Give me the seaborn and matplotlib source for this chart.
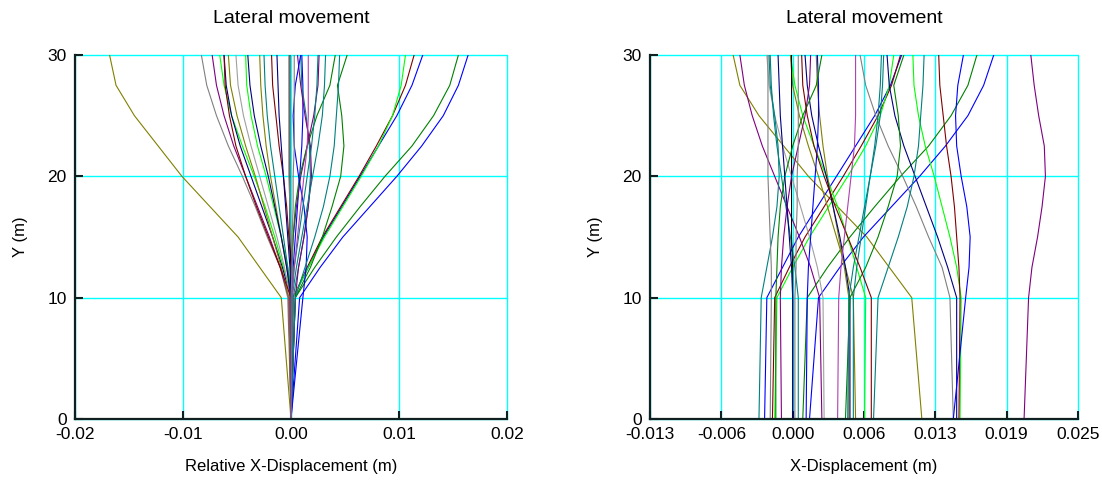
import matplotlib
matplotlib.use("Agg")
import matplotlib.pyplot as plt
import pandas as pd
import seaborn as sns

sns.set_theme(style="white")
plt.rcParams["font.family"] = ["Liberation Sans", "DejaVu Sans"]
plt.rcParams["text.color"] = "black"
plt.rcParams["axes.labelcolor"] = "black"

# Elevation levels (m) at which displacements were read
depth_levels = [0, 10, 12.5, 15, 17.5, 20, 22.5, 25, 27.5, 30]

# Relative X-displacement (m) per line, at depth_levels
r01 = [0, -0.0009, -0.0029, -0.0049, -0.0075, -0.0101, -0.0123, -0.0145, -0.0162, -0.0168]
r02 = [0, 0.0008, 0.0027, 0.0048, 0.0073, 0.0098, 0.0121, 0.0141, 0.0155, 0.0164]
r03 = [0, 0.0004, 0.0022, 0.0042, 0.0064, 0.0087, 0.0112, 0.0132, 0.0147, 0.0155]
r04 = [0, 0.0002, 0.0016, 0.0030, 0.0047, 0.0064, 0.0081, 0.0098, 0.0112, 0.0122]
r05 = [0, 0.0002, 0.0015, 0.0029, 0.0046, 0.0063, 0.0079, 0.0094, 0.0106, 0.0114]
r06 = [0, 0.0002, 0.0016, 0.0031, 0.0048, 0.0065, 0.0081, 0.0094, 0.0102, 0.0106]
r07 = [0, -0.0003, -0.0010, -0.0022, -0.0033, -0.0045, -0.0058, -0.0069, -0.0078, -0.0083]
r08 = [0, -0.0002, -0.0010, -0.0020, -0.0031, -0.0042, -0.0053, -0.0062, -0.0069, -0.0073]
r09 = [0, 0.0001, -0.0007, -0.0015, -0.0024, -0.0034, -0.0045, -0.0055, -0.0062, -0.0066]
r10 = [0, 0.0000, -0.0008, -0.0017, -0.0027, -0.0037, -0.0047, -0.0055, -0.0060, -0.0062]
r11 = [0, -0.0002, -0.0009, -0.0017, -0.0025, -0.0033, -0.0042, -0.0050, -0.0056, -0.0058]
r12 = [0, -0.0001, -0.0006, -0.0013, -0.0021, -0.0029, -0.0037, -0.0044, -0.0049, -0.0051]
r13 = [0, 0.0001, -0.0003, -0.0009, -0.0016, -0.0023, -0.0031, -0.0037, -0.0041, -0.0042]
r14 = [0, 0.0000, -0.0004, -0.0009, -0.0014, -0.0019, -0.0023, -0.0026, -0.0028, -0.0029]
r15 = [0, 0.0000, -0.0003, -0.0007, -0.0011, -0.0015, -0.0019, -0.0022, -0.0024, -0.0025]
r16 = [0, 0.0001, 0.0000, -0.0002, -0.0004, -0.0007, -0.0011, -0.0014, -0.0017, -0.0018]
r17 = [0, 0.0000, -0.0004, -0.0009, -0.0015, -0.0021, -0.0028, -0.0034, -0.0038, -0.0040]
r18 = [0, 0.0001, 0.0002, 0.0004, 0.0006, 0.0008, 0.0010, 0.0011, 0.0011, 0.0010]
r19 = [0, 0.0000, 0.0000, -0.0001, -0.0001, -0.0001, -0.0001, -0.0001, -0.0001, -0.0001]
r20 = [0, 0.0002, 0.0007, 0.0012, 0.0016, 0.0018, 0.0017, 0.0014, 0.0010, 0.0009]
r21 = [0, 0.0001, 0.0001, 0.0000, -0.0001, -0.0002, -0.0002, -0.0002, -0.0002, -0.0002]
r22 = [0, -0.0001, 0.0000, 0.0002, 0.0005, 0.0009, 0.0015, 0.0021, 0.0025, 0.0026]
r23 = [0, 0.0000, 0.0001, 0.0002, 0.0004, 0.0008, 0.0015, 0.0024, 0.0036, 0.0041]
r24 = [0, 0.0004, 0.0018, 0.0029, 0.0038, 0.0046, 0.0049, 0.0047, 0.0043, 0.0052]
r25 = [0, 0.0004, 0.0007, 0.0012, 0.0016, 0.0019, 0.0018, 0.0013, 0.0009, 0.0006]
r26 = [0, 0.0011, 0.0014, 0.0015, 0.0012, 0.0007, 0.0003, 0.0002, 0.0004, 0.0009]
r27 = [0, 0.0004, 0.0013, 0.0022, 0.0030, 0.0036, 0.0040, 0.0042, 0.0044, 0.0045]
r28 = [0, 0.0001, 0.0005, 0.0010, 0.0015, 0.0020, 0.0025, 0.0029, 0.0031, 0.0032]
r29 = [0, 0.0000, 0.0003, 0.0007, 0.0011, 0.0015, 0.0019, 0.0022, 0.0024, 0.0025]
r30 = [0, 0.0000, -0.0010, -0.0021, -0.0032, -0.0042, -0.0051, -0.0057, -0.0061, -0.0062]
r31 = [0, 0.0000, -0.0001, -0.0003, -0.0005, -0.0007, -0.0009, -0.0011, -0.0012, -0.0013]
r32 = [0, 0.0001, 0.0003, 0.0006, 0.0009, 0.0012, 0.0015, 0.0016, 0.0016, 0.0016]
r33 = [0, 0.0000, 0.0001, 0.0001, 0.0002, 0.0002, 0.0003, 0.0003, 0.0003, 0.0003]

# X-displacement (m) of each line at Y = 0
line_bases = [0.0115, 0.0015, 0.0009, -0.0025, -0.0018, -0.0016, 0.0143, 0.0026,
              0.0064, 0.0146, 0.0056, 0.0028, 0.0149, 0.0050, 0.0005, 0.0148,
              0.0051, 0.0012, 0.0000, -0.0030, -0.0020, -0.0010, -0.0015, 0.0047,
              0.0206, 0.0143, 0.0072, 0.0049, 0.0054, 0.0070, 0.0000, 0.0040, 0.0002]

line_colors = ["#808000", "#0000FF", "#008000", "#0000FF", "#800000", "#00FF00", "#808080", "#800080",
               "#00FF00", "#000080", "#808000", "#A0A0A0", "#00FF00", "#808000", "#008080", "#800000",
               "#000080", "#0000FF", "#000000", "#008080", "#808080", "#800080", "#008000", "#008000",
               "#800080", "#0000FF", "#008080", "#008080", "#008080", "#800000", "#000080", "#B040B0", "#808080"]

rel_profiles = [r01, r02, r03, r04, r05, r06, r07, r08, r09, r10, r11, r12, r13, r14, r15, r16,
                r17, r18, r19, r20, r21, r22, r23, r24, r25, r26, r27, r28, r29, r30, r31, r32, r33]

left_xticks = [-0.02, -0.01, 0.0, 0.01, 0.02]
left_xticklabels = ["-0.02", "-0.01", "0.00", "0.01", "0.02"]
right_xticks = [-0.0127, -0.00635, 0.0, 0.00635, 0.0127, 0.01905, 0.0254]
right_xticklabels = ["-0.013", "-0.006", "0.000", "0.006", "0.013", "0.019", "0.025"]
y_ticks = [0, 10, 20, 30]

rows = []
for i, (b, prof) in enumerate(zip(line_bases, rel_profiles)):
    for y, r in zip(depth_levels, prof):
        rows.append({"line": i, "Y": y, "rel": r, "absx": b + r})
df = pd.DataFrame(rows)
palette = {i: c for i, c in enumerate(line_colors)}

fig = plt.figure(figsize=(11.02, 4.82), dpi=100)
ax1 = fig.add_axes([75 / 1102, 63 / 482, 432 / 1102, 364 / 482])
ax2 = fig.add_axes([650 / 1102, 63 / 482, 428 / 1102, 364 / 482])

sns.lineplot(data=df, x="rel", y="Y", hue="line", units="line", estimator=None, sort=False,
             palette=palette, legend=False, linewidth=0.8, ax=ax1)
sns.lineplot(data=df, x="absx", y="Y", hue="line", units="line", estimator=None, sort=False,
             palette=palette, legend=False, linewidth=0.8, ax=ax2)

ax1.set_xlim(-0.02, 0.02)
ax1.set_xticks(left_xticks)
ax1.set_xticklabels(left_xticklabels)
ax1.set_xlabel("Relative X-Displacement (m)", fontsize=12, labelpad=12)
ax2.set_xlim(-0.0127, 0.0254)
ax2.set_xticks(right_xticks)
ax2.set_xticklabels(right_xticklabels)
ax2.set_xlabel("X-Displacement (m)", fontsize=12, labelpad=12)

for ax in (ax1, ax2):
    ax.set_ylim(0, 30)
    ax.set_yticks(y_ticks)
    ax.set_yticklabels([str(t) for t in y_ticks])
    ax.set_ylabel("Y (m)", fontsize=12, labelpad=14)
    ax.set_title("Lateral movement", fontsize=14, pad=23, color="black")
    ax.grid(True, color="#00FFFF", linewidth=1.0)
    ax.set_axisbelow(True)
    for gl in ax.get_xgridlines() + ax.get_ygridlines():
        gl.set_clip_on(False)
    for s in ("top", "right"):
        ax.spines[s].set_visible(False)
    for s in ("left", "bottom"):
        ax.spines[s].set_color("#102020")
        ax.spines[s].set_linewidth(1.6)
        ax.spines[s].set_zorder(5)
    ax.tick_params(axis="both", which="major", direction="in", length=6, width=1.5,
                   color="#102020", labelsize=12.5, pad=6, bottom=True, left=True,
                   labelcolor="black")

fig.savefig("out.png", dpi=100)
